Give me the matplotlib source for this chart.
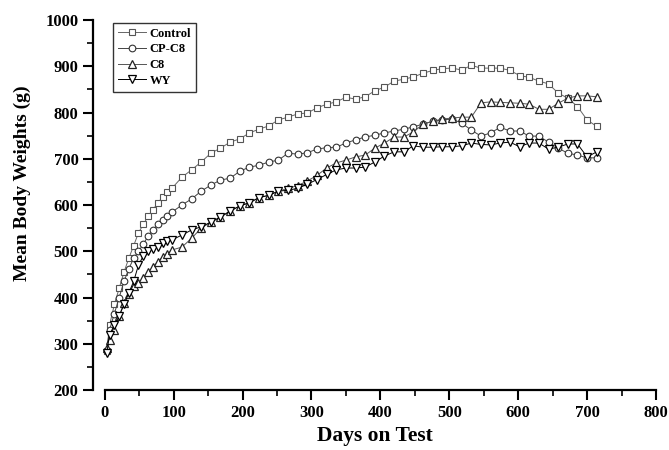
import numpy as np
import matplotlib.pyplot as plt
from matplotlib.ticker import MultipleLocator

plt.rcParams['font.family'] = ['Liberation Serif', 'DejaVu Serif']
plt.rcParams['font.weight'] = 'bold'

# days on test (weekly first, then every two weeks)
days = [3, 7, 14, 21, 28, 35, 42, 49, 56, 63, 70, 77, 84, 91] + list(range(98, 715, 14))

control = [285, 340, 385, 420, 455, 485, 512, 540, 558, 576, 590, 604, 618, 628,
           637, 660, 676, 693, 712, 723, 736, 743, 756, 764, 771, 784, 790, 797,
           799, 810, 818, 823, 833, 829, 834, 847, 855, 868, 872, 877, 885, 891,
           895, 896, 892, 902, 896, 896, 896, 891, 880, 876, 868, 862, 842, 831,
           813, 784, 770]
cp_c8 = [285, 330, 365, 400, 435, 462, 485, 500, 515, 533, 546, 558, 568, 577,
         585, 600, 613, 630, 643, 654, 658, 673, 682, 686, 693, 697, 712, 710,
         713, 721, 724, 725, 734, 741, 747, 751, 756, 760, 764, 769, 775, 781,
         784, 786, 777, 762, 749, 756, 768, 760, 760, 749, 749, 736, 723, 712,
         708, 702, 702]
c8 = [290, 308, 330, 360, 388, 408, 425, 432, 442, 455, 466, 477, 488, 495,
      503, 509, 528, 550, 563, 574, 587, 598, 605, 616, 621, 630, 636, 642,
      652, 664, 680, 691, 697, 704, 708, 723, 734, 747, 747, 758, 775, 781,
      786, 788, 790, 790, 821, 823, 822, 821, 820, 818, 807, 807, 820, 831,
      836, 836, 834]
wy = [280, 320, 340, 360, 385, 410, 435, 470, 490, 500, 505, 510, 517, 522,
      525, 535, 546, 553, 563, 574, 587, 598, 605, 616, 621, 630, 632, 636,
      645, 655, 666, 676, 680, 680, 682, 693, 706, 715, 715, 728, 725, 725,
      726, 726, 728, 734, 731, 730, 734, 736, 726, 734, 734, 721, 725, 732,
      732, 704, 715]

fig = plt.figure(figsize=(6.69, 4.5), dpi=100)
ax = fig.add_axes([0.139, 0.1333, 0.8416, 0.8222])

ax.plot(days, control, color='#666666', lw=0.7, marker='s', ms=4.5, mfc='white',
        mec='#555555', mew=0.8, label='Control')
ax.plot(days, cp_c8, color='#444444', lw=0.7, marker='o', ms=4.8, mfc='white',
        mec='#333333', mew=0.8, label='CP-C8')
ax.plot(days, c8, color='#555555', lw=0.7, marker='^', ms=5.5, mfc='white',
        mec='#222222', mew=0.9, label='C8')
ax.plot(days, wy, color='black', lw=0.7, marker='v', ms=5.5, mfc='white',
        mec='black', mew=0.9, label='WY')

ax.set_xlim(-17, 800)
ax.set_ylim(200, 1000)
ax.spines['top'].set_visible(False)
ax.spines['right'].set_visible(False)
ax.spines['left'].set_linewidth(1.6)
ax.spines['bottom'].set_linewidth(1.6)
ax.spines['bottom'].set_bounds(0, 800)

ax.xaxis.set_major_locator(MultipleLocator(100))
ax.xaxis.set_minor_locator(MultipleLocator(50))
ax.yaxis.set_major_locator(MultipleLocator(100))
ax.yaxis.set_minor_locator(MultipleLocator(50))
ax.tick_params(which='major', length=7, width=1.5, labelsize=12)
ax.tick_params(which='minor', length=4, width=1.2)
for lab in ax.get_xticklabels() + ax.get_yticklabels():
    lab.set_fontweight('bold')

ax.set_xlabel('Days on Test', fontsize=15.5, fontweight='bold', labelpad=4)
ax.set_ylabel('Mean Body Weights (g)', fontsize=14, fontweight='bold')
ax.yaxis.set_label_coords(-0.11, 0.56)

leg = ax.legend(loc='upper left', bbox_to_anchor=(0.025, 1.01),
                frameon=True, fancybox=False, edgecolor='black',
                handlelength=2.2, borderpad=0.4, labelspacing=0.3,
                handletextpad=0.3, prop={'weight': 'bold', 'size': 9})
leg.get_frame().set_linewidth(1.0)

fig.savefig('out.png', dpi=100)
